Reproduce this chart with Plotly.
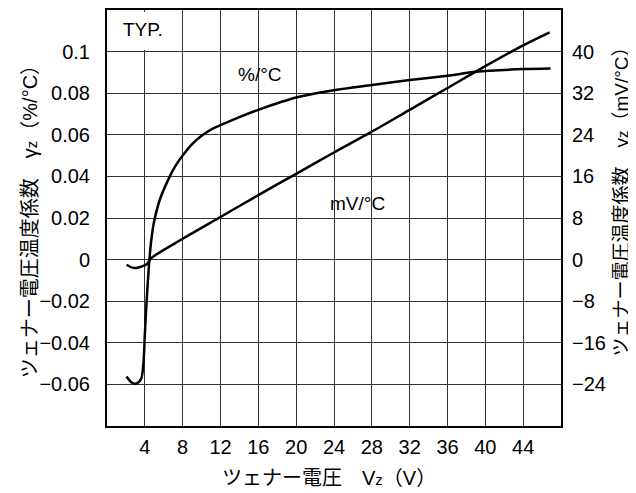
import plotly.graph_objects as go

# %/°C curve (left axis)
pct_vz = [2.07, 2.6, 3.1, 3.6, 3.85, 4.0, 4.2, 4.45, 4.65, 4.85, 5.06, 5.6, 6.64, 7.3, 8.0, 9.0,
          10.0, 11.0, 12.0, 14.0, 16.0, 20.0, 24.0, 28.0, 32.0, 36.0, 39.0, 44.0, 46.9]
pct_val = [-0.0562, -0.0591, -0.0596, -0.0575, -0.050, -0.036, -0.019, -0.002, 0.008, 0.015, 0.020,
           0.029, 0.040, 0.0455, 0.050, 0.0555, 0.0595, 0.0625, 0.0646, 0.0685, 0.072, 0.0779,
           0.0814, 0.0839, 0.0863, 0.0884, 0.0903, 0.0916, 0.0919]

# mV/°C curve (right axis)
mv_vz = [2.07, 2.6, 3.1, 3.7, 4.2, 4.7, 8.0, 12.0, 16.0, 20.0, 24.0, 28.0, 32.0, 36.0, 40.0, 44.0, 46.8]
mv_val = [-1.0, -1.5, -1.6, -1.3, -0.9, 0.3, 4.0, 8.2, 12.4, 16.5, 20.6, 24.6, 28.8, 33.0, 37.2, 41.2, 43.7]

x_ticks = [4, 8, 12, 16, 20, 24, 28, 32, 36, 40, 44]
y_ticks = [-0.06, -0.04, -0.02, 0, 0.02, 0.04, 0.06, 0.08, 0.1]
y_labels = ["−0.06", "−0.04", "−0.02", "0", "0.02", "0.04", "0.06", "0.08", "0.1"]
y2_ticks = [-24, -16, -8, 0, 8, 16, 24, 32, 40]
y2_labels = ["−24", "−16", "−8", "0", "8", "16", "24", "32", "40"]

FONT = "Liberation Sans, Arial, Noto Sans CJK JP"
GRID = "#333333"

fig = go.Figure()
fig.add_trace(go.Scatter(x=pct_vz, y=pct_val, mode="lines",
                         line=dict(color="black", width=2.5, shape="spline", smoothing=0.8),
                         showlegend=False))
fig.add_trace(go.Scatter(x=mv_vz, y=mv_val, mode="lines", yaxis="y2",
                         line=dict(color="black", width=2.5, shape="spline", smoothing=0.8),
                         showlegend=False))

# page body has an 8px margin, so the figure is a bit smaller and shifted
fig.update_layout(
    width=628, height=485,
    margin=dict(l=99, r=75, t=2, b=67),
    paper_bgcolor="white", plot_bgcolor="white",
    font=dict(family=FONT, size=20, color="black"),
    xaxis=dict(range=[0, 48], tickvals=x_ticks, showgrid=True, gridcolor=GRID, gridwidth=1.3,
               zeroline=False, showline=True, linecolor="black", linewidth=2, mirror=True,
               ticks="", ticklabelstandoff=2, automargin=False),
    yaxis=dict(range=[-0.08, 0.12], tickvals=y_ticks, ticktext=y_labels, showgrid=True,
               gridcolor=GRID, gridwidth=1.3, zeroline=False, showline=True, linecolor="black",
               linewidth=2, mirror=True, ticks="", ticklabelstandoff=11, automargin=False),
    yaxis2=dict(range=[-32, 48], tickvals=y2_ticks, ticktext=y2_labels, overlaying="y",
                side="right", showgrid=False, zeroline=False, ticks="", ticklabelstandoff=10,
                automargin=False),
)

# hide the grid behind the TYP. label
fig.add_shape(type="rect", xref="x", yref="y", x0=0.15, x1=7.6, y0=0.1008, y1=0.1192,
              fillcolor="white", line_width=0, layer="above")

sub = "<span style='font-size:15px'>z</span>"
annos = [
    dict(text="TYP.", x=1.5, y=0.1104, xref="x", yref="y", xanchor="left", font_size=19),
    dict(text="%/°C", x=16.15, y=0.0892, xref="x", yref="y", font_size=19),
    dict(text="mV/°C", x=26.44, y=0.027, xref="x", yref="y", font_size=19),
    dict(text="ツェナー電圧　V" + sub + "（V）", x=0.489, y=-0.125, xref="paper", yref="paper",
         font_size=20),
    dict(text="ツェナー電圧温度係数　γ" + sub + "（%/°C）", x=-0.1696, y=0.502, xref="paper",
         yref="paper", textangle=-90, font_size=20),
    dict(text="ツェナー電圧温度係数　γ" + sub + "（mV/°C）", x=1.133, y=0.55, xref="paper",
         yref="paper", textangle=-90, font_size=19),
]
for a in annos:
    a.setdefault("xanchor", "center")
    fig.add_annotation(showarrow=False, yanchor="middle", **a)

fig.write_html("out.html")
